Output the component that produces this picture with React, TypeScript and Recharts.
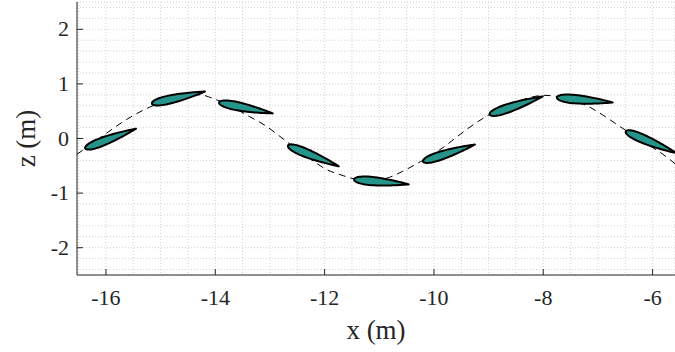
import React from 'react';
import { ComposedChart, Line, Scatter, XAxis, YAxis, CartesianGrid } from 'recharts';

// axis ranges (m)
const X_DOMAIN: [number, number] = [-16.53, -5.59];
const Z_DOMAIN: [number, number] = [-2.5, 2.5];

const xMajorTicks = [-16, -14, -12, -10, -8, -6];
const zMajorTicks = [-2, -1, 0, 1, 2];
const xGridTicks = [
  -16.5, -16, -15.5, -15, -14.5, -14, -13.5, -13, -12.5, -12, -11.5,
  -11, -10.5, -10, -9.5, -9, -8.5, -8, -7.5, -7, -6.5, -6,
];
const zGridTicks = [
  -2.4, -2.2, -2, -1.8, -1.6, -1.4, -1.2, -1, -0.8, -0.6, -0.4, -0.2, 0,
  0.2, 0.4, 0.6, 0.8, 1, 1.2, 1.4, 1.6, 1.8, 2, 2.2, 2.4,
];

// dashed trajectory
const pathX = [
  -16.53, -16.07, -15.62, -15.21, -14.74, -14.28, -14.01, -13.37, -13.06, -12.82,
  -12.27, -11.96, -11.66, -11.5, -11.17, -10.81, -10.57, -10.31, -9.84, -9.58,
  -9.34, -9.1, -8.52, -7.97, -7.82, -7.2, -6.91, -6.6, -6.1, -5.81, -5.59,
];
const pathZ = [
  -0.29, 0.04, 0.35, 0.57, 0.73, 0.8, 0.72, 0.4, 0.22, 0.04,
  -0.37, -0.57, -0.68, -0.73, -0.77, -0.71, -0.6, -0.46, -0.17, 0.03,
  0.21, 0.37, 0.66, 0.79, 0.78, 0.6, 0.43, 0.22, -0.1, -0.29, -0.46,
];

// foil snapshots: leading edge / trailing edge
const leX = [-16.38, -15.16, -13.93, -12.67, -11.46, -10.2, -8.98, -7.75, -6.49];
const leZ = [-0.18, 0.64, 0.66, -0.13, -0.75, -0.42, 0.44, 0.75, 0.13];
const teX = [-15.45, -14.19, -12.95, -11.74, -10.46, -9.25, -8.01, -6.73, -5.56];
const teZ = [0.18, 0.86, 0.46, -0.51, -0.84, -0.11, 0.77, 0.66, -0.27];

const W = 675;
const H = 352;
const MARGIN = { top: 2, right: 0, bottom: 0, left: 17 };
const Y_AXIS_W = 60;
const X_AXIS_H = 77;
const PLOT_W = W - MARGIN.left - MARGIN.right - Y_AXIS_W;
const PLOT_H = H - MARGIN.top - MARGIN.bottom - X_AXIS_H;
const KX = PLOT_W / (X_DOMAIN[1] - X_DOMAIN[0]);
const KZ = PLOT_H / (Z_DOMAIN[1] - Z_DOMAIN[0]);

const FONT = '"Liberation Serif", "DejaVu Serif", serif';
const INK = '#262626';

const trajectory = pathX.map((x, i) => ({ x, z: pathZ[i] }));
const foils = leX.map((x, i) => ({ x, z: leZ[i], tx: teX[i], tz: teZ[i] }));

// symmetric NACA section between leading and trailing edge
const Airfoil = (props: any) => {
  const { cx, cy, payload } = props;
  if (cx == null || cy == null) return null;
  const ex = cx + (payload.tx - payload.x) * KX;
  const ey = cy - (payload.tz - payload.z) * KZ;
  const dx = ex - cx;
  const dy = ey - cy;
  const len = Math.hypot(dx, dy);
  const nx = -dy / len;
  const ny = dx / len;
  const t = 0.15;
  const n = 36;
  const upper: string[] = [];
  const lower: string[] = [];
  for (let i = 0; i <= n; i++) {
    const s = (1 - Math.cos((Math.PI * i) / n)) / 2;
    const yt =
      5 * t * len *
      (0.2969 * Math.sqrt(s) - 0.126 * s - 0.3516 * s * s + 0.2843 * s ** 3 - 0.1036 * s ** 4);
    const px = cx + dx * s;
    const py = cy + dy * s;
    upper.push(`${(px + nx * yt).toFixed(2)},${(py + ny * yt).toFixed(2)}`);
    lower.push(`${(px - nx * yt).toFixed(2)},${(py - ny * yt).toFixed(2)}`);
  }
  const d = `M${upper.join('L')}L${lower.reverse().join('L')}Z`;
  return <path d={d} fill="#25958b" stroke="#000" strokeWidth={2} strokeLinejoin="round" />;
};

const XTick = (props: any) => {
  const { x, y, payload } = props;
  if (!xMajorTicks.includes(payload.value)) return null;
  return (
    <g>
      <line x1={x} y1={y} x2={x} y2={y - 6} stroke={INK} strokeWidth={1} />
      <text x={x} y={y + 30} textAnchor="middle" fill={INK} style={{ fontFamily: FONT, fontSize: 22 }}>
        {payload.value}
      </text>
    </g>
  );
};

const ZTick = (props: any) => {
  const { x, y, payload } = props;
  if (!zMajorTicks.includes(payload.value)) return null;
  return (
    <g>
      <line x1={x} y1={y} x2={x + 6} y2={y} stroke={INK} strokeWidth={1} />
      <text x={x - 8} y={y + 7} textAnchor="end" fill={INK} style={{ fontFamily: FONT, fontSize: 22 }}>
        {payload.value}
      </text>
    </g>
  );
};

const XLabel = (props: any) => {
  const { viewBox } = props;
  return (
    <text x={viewBox.x + viewBox.width / 2} y={viewBox.y + 64} textAnchor="middle" fill={INK} style={{ fontFamily: FONT, fontSize: 27 }}>
      x (m)
    </text>
  );
};

const ZLabel = (props: any) => {
  const { viewBox } = props;
  const cy = viewBox.y + viewBox.height / 2;
  return (
    <text x={35} y={cy} transform={`rotate(-90, 35, ${cy})`} textAnchor="middle" fill={INK} style={{ fontFamily: FONT, fontSize: 27 }}>
      z (m)
    </text>
  );
};

export default function App() {
  return (
    <div style={{ position: 'absolute', left: 0, top: 0, width: W, height: H, background: '#fff' }}>
      <ComposedChart width={W} height={H} margin={MARGIN}>
        <CartesianGrid stroke="#d2d2d2" strokeDasharray="1 2" strokeWidth={1} />
        <XAxis
          type="number"
          dataKey="x"
          domain={X_DOMAIN}
          allowDataOverflow
          ticks={xGridTicks}
          interval={0}
          height={X_AXIS_H}
          tickSize={0}
          tickMargin={0}
          tickLine={false}
          tick={<XTick />}
          axisLine={{ stroke: INK, strokeWidth: 1 }}
          label={<XLabel />}
        />
        <YAxis
          type="number"
          dataKey="z"
          domain={Z_DOMAIN}
          allowDataOverflow
          ticks={zGridTicks}
          interval={0}
          width={Y_AXIS_W}
          tickSize={0}
          tickMargin={0}
          tickLine={false}
          tick={<ZTick />}
          axisLine={{ stroke: INK, strokeWidth: 1 }}
          label={<ZLabel />}
        />
        <Line
          data={trajectory}
          dataKey="z"
          type="monotone"
          stroke="#000"
          strokeWidth={1}
          strokeDasharray="7 5"
          dot={false}
          activeDot={false}
          isAnimationActive={false}
        />
        <Scatter data={foils} dataKey="z" shape={<Airfoil />} isAnimationActive={false} />
      </ComposedChart>
    </div>
  );
}
